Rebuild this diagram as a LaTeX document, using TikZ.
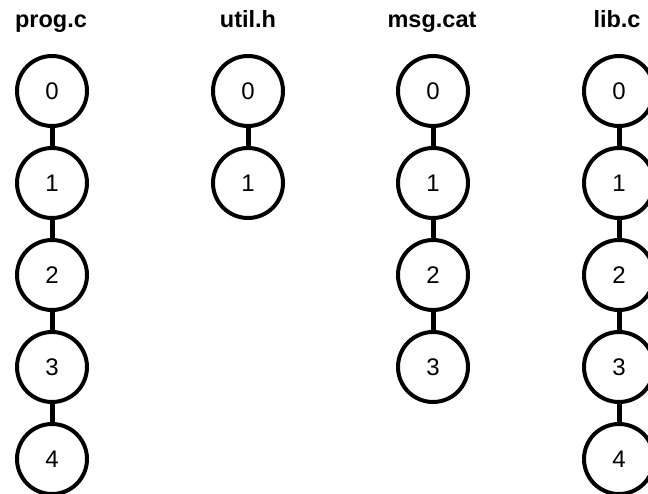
\documentclass[tikz,border=0pt]{standalone}
\usepackage{fontspec}
\setmainfont{Liberation Sans}
\begin{document}
\begin{tikzpicture}[x=1pt,y=1pt,
  st/.style={circle,draw=black,line width=4pt,minimum size=70pt,inner sep=0pt,font=\fontsize{24}{28}\selectfont,fill=white},
  ttl/.style={anchor=base,font=\fontsize{23.5}{28}\selectfont\bfseries,inner sep=0pt},
  lnk/.style={line width=5pt,draw=black}]
\useasboundingbox (0,0) rectangle (648,-494);
% titles
\node[ttl] (tp) at (51,-28) {prog.c};
\node[ttl] (tu) at (248,-28) {util.h};
\node[ttl] (tm) at (432,-28) {msg.cat};
\node[ttl] (tl) at (617,-28) {lib.c};
% prog.c
\node[st] (p0) at (52,-91) {0};
\node[st] (p1) at (52,-183) {1};
\node[st] (p2) at (52,-275) {2};
\node[st] (p3) at (52,-367) {3};
\node[st] (p4) at (52,-459) {4};
% util.h
\node[st] (u0) at (248,-91) {0};
\node[st] (u1) at (248,-183) {1};
% msg.cat
\node[st] (m0) at (433,-91) {0};
\node[st] (m1) at (433,-183) {1};
\node[st] (m2) at (433,-275) {2};
\node[st] (m3) at (433,-367) {3};
% lib.c
\node[st] (l0) at (619,-91) {0};
\node[st] (l1) at (619,-183) {1};
\node[st] (l2) at (619,-275) {2};
\node[st] (l3) at (619,-367) {3};
\node[st] (l4) at (619,-459) {4};
% links
\draw[lnk] (p0) -- (p1);
\draw[lnk] (p1) -- (p2);
\draw[lnk] (p2) -- (p3);
\draw[lnk] (p3) -- (p4);
\draw[lnk] (u0) -- (u1);
\draw[lnk] (m0) -- (m1);
\draw[lnk] (m1) -- (m2);
\draw[lnk] (m2) -- (m3);
\draw[lnk] (l0) -- (l1);
\draw[lnk] (l1) -- (l2);
\draw[lnk] (l2) -- (l3);
\draw[lnk] (l3) -- (l4);
\end{tikzpicture}
\end{document}
